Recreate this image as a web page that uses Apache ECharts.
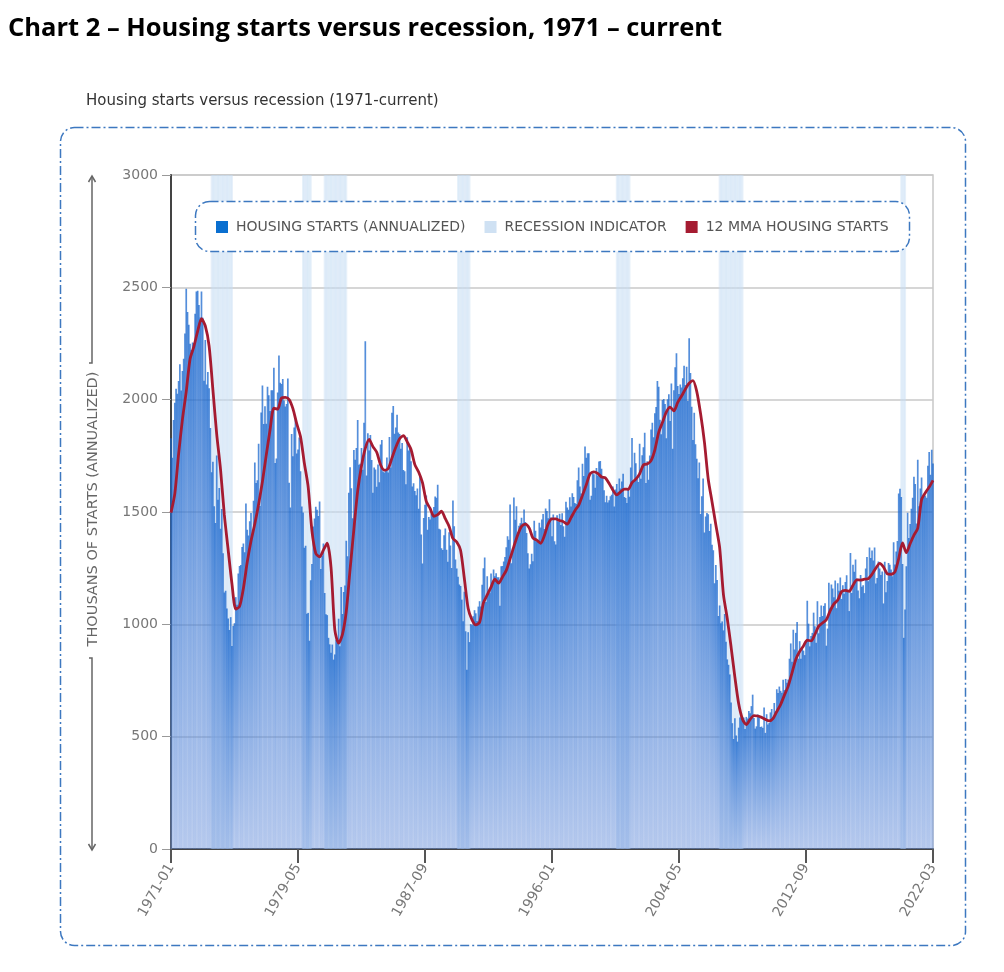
<!DOCTYPE html>
<html>
<head>
<meta charset="utf-8">
<script src="https://cdn.jsdelivr.net/npm/echarts@6/dist/echarts.min.js"></script>
<style>
html,body{margin:0;padding:0;background:#fff;}
#chart{width:1004px;height:972px;}
</style>
</head>
<body>
<div id="chart"></div>
<script>
// ---- category labels (monthly; source series lacks a few months in 2013-2019) ----
const firstYear = 1971, lastYear = 2022, lastMonth = 3;
const missingMonths = ['2013-03','2013-09','2014-03','2014-09','2015-03','2015-09','2016-03',
  '2016-09','2017-03','2017-09','2018-03','2018-09','2019-03','2019-09'];
const categories = [];
for (let y = firstYear; y <= lastYear; y++) {
  for (let m = 1; m <= 12; m++) {
    if (y === lastYear && m > lastMonth) break;
    const lab = y + '-' + (m < 10 ? '0' + m : m);
    if (missingMonths.indexOf(lab) < 0) categories.push(lab);
  }
}

// ---- housing starts, thousands, annualized (one value per category) ----
const housingStarts = [
  1828,1741,1910,1986,2049,2026,2083,2158,2041,2128,2182,2295,
  2494,2390,2334,2249,2221,2254,2252,2382,2481,2485,2421,2366,
  2481,2365,2084,2266,2067,2123,2051,1874,1677,1724,1526,
  1451,1752,1555,1607,1426,1513,1316,1142,1150,1070,1026,975,
  1032,904,993,1005,1121,1087,1226,1260,1264,1344,1360,1321,
  1538,1421,1395,1459,1495,1401,1550,1720,1629,1641,1804,
  1527,1943,2063,1892,1971,1893,2058,2020,1949,2042,2042,2142,
  1718,1738,2032,2197,2075,2070,2092,1996,1970,1981,2094,
  1630,1520,1847,1748,1876,1913,1760,1778,1832,1681,1524,1498,
  1341,1350,1047,1051,927,1196,1269,1436,1471,1523,1510,1482,
  1547,1246,1306,1360,1140,1045,1041,940,911,873,910,
  843,866,931,917,1025,902,1166,1046,1144,1173,1372,1303,
  1586,1699,1606,1472,1776,1733,1785,1910,1710,1715,1785,1688,
  1897,2260,1663,1851,1774,1843,1732,1586,1698,1689,1612,
  1711,1632,1800,1821,1680,1676,1684,1743,1676,1834,1698,1942,
  1972,1848,1876,1933,1854,1847,1782,1807,1687,1681,1623,1833,
  1774,1784,1726,1614,1628,1594,1575,1605,1515,1656,1400,
  1271,1473,1532,1573,1421,1478,1467,1493,1492,1522,1569,1563,
  1621,1425,1422,1339,1331,1397,1427,1332,1279,1410,1351,1251,
  1551,1437,1289,1248,1212,1177,1171,1110,1014,1145,969,
  798,965,921,1001,996,1036,1063,1049,1015,1079,1103,1079,
  1176,1250,1297,1099,1214,1145,1139,1226,1186,1244,1214,1227,
  1210,1210,1083,1258,1260,1280,1300,1343,1392,1376,1533,
  1272,1337,1564,1465,1526,1409,1439,1450,1474,1450,1511,1455,
  1407,1316,1249,1267,1314,1281,1461,1416,1369,1369,1452,1431,
  1467,1491,1424,1516,1504,1472,1557,1475,1392,1489,1370,
  1355,1486,1457,1492,1442,1494,1437,1390,1546,1520,1510,1566,
  1525,1584,1567,1540,1536,1641,1698,1614,1582,1715,1660,1792,
  1742,1761,1762,1555,1572,1682,1668,1608,1696,1662,1725,
  1727,1692,1651,1597,1543,1572,1542,1552,1570,1577,1614,1525,
  1600,1625,1590,1649,1605,1636,1670,1567,1562,1540,1602,1568,
  1698,1829,1642,1764,1717,1655,1633,1804,1648,1753,1788,
  1853,1629,1726,1643,1751,1867,1897,1833,1939,1967,2083,2057,
  1911,1846,1998,2003,1981,1828,2002,2024,1905,2072,1782,2042,
  2144,2207,2061,2025,2068,2054,2095,2151,2065,2147,1994,
  2273,2119,1969,1821,1942,1802,1737,1650,1720,1491,1570,1649,
  1409,1480,1495,1490,1415,1448,1354,1330,1183,1264,1197,1037,
  1084,1005,1013,973,1046,923,844,820,777,652,560,
  490,582,505,478,540,585,594,586,585,534,588,581,
  614,604,636,687,583,536,546,599,594,543,545,539,
  630,517,600,554,561,608,623,585,650,611,711,694,
  723,704,695,753,708,757,740,754,847,915,833,976,
  888,962,1010,847,925,847,898,883,863,930,1105,1003,
  902,948,962,1052,991,918,1103,960,1033,1084,1037,1082,
  1094,905,981,1185,1074,1177,1160,1121,1195,1072,1183,1150,
  1208,1113,1174,1136,1188,1219,1150,1059,1317,1140,1265,
  1234,1289,1204,1151,1116,1220,1167,1174,1139,1248,1300,1192,
  1342,1295,1329,1284,1342,1182,1206,1280,1248,1220,1235,1093,
  1279,1143,1193,1273,1265,1244,1214,1365,1266,1324,1371,1582,
  1604,1567,1269,940,1066,1258,1497,1384,1447,1514,1563,1657,
  1625,1449,1733,1526,1605,1654,1563,1573,1573,1563,1706,1767,
  1666,1777,1716
];

// ---- 12-month moving average, read every third category ----
const mmaStep = 3;
const mma12 = [
  1497,1582,1759,1912,2036,2181,2236,2305,2361,
  2328,2239,2044,1846,1690,1487,1332,1180,1068,1080,1160,
  1276,1371,1448,1535,1636,1753,1866,1962,1958,2007,2010,
  2001,1960,1893,1835,1717,1612,1415,1316,1300,1330,1361,1254,
  975,916,955,1057,1245,1423,1594,1705,1783,1823,1791,
  1766,1710,1686,1693,1741,1788,1826,1840,1812,1778,1711,
  1678,1631,1547,1516,1481,1488,1504,1470,1436,1382,1366,1330,
  1203,1070,1020,998,1009,1095,1131,1166,1201,1183,1211,
  1240,1292,1347,1398,1436,1446,1429,1384,1375,1361,1395,
  1447,1469,1469,1462,1457,1446,1475,1506,1530,1574,1621,1670,
  1679,1672,1656,1652,1627,1597,1576,1590,1602,1601,1631,
  1646,1670,1710,1714,1729,1777,1854,1899,1945,1967,1950,
  1988,2016,2047,2073,2085,2036,1937,1812,1647,1546,1443,1342,
  1132,1026,900,765,646,578,554,577,594,592,586,577,570,580,612,643,685,725,784,845,879,904,930,926,955,992,1006,1020,1060,1091,1108,
  1146,1151,1147,1174,1198,1197,1201,1203,1223,1250,1271,1255,1225,1223,1233,1293,1362,1319,1359,1397,1428,1555,1586,1611,1641
];

// ---- recession indicator periods (category labels) ----
const recessions = [
  ['1973-09','1975-01'], ['1979-09','1980-03'], ['1981-02','1982-07'],
  ['1989-11','1990-08'], ['2000-04','2001-02'], ['2007-01','2008-07'], ['2020-02','2020-05']
];

// ---- axis ticks ----
const yMin = 0, yMax = 3000, yStep = 500;
const labelEvery = 100;

const seriesNames = ['HOUSING STARTS (ANNUALIZED)', 'RECESSION INDICATOR', '12 MMA HOUSING STARTS'];
const colBlue = '#0a6fd0', colRec = '#cfe1f3', colRed = '#a51b31';

// recession indicator: full-height value inside each period, empty elsewhere
const recessionIndicator = categories.map(function (c) {
  for (const r of recessions) { if (c >= r[0] && c <= r[1]) return yMax; }
  return null;
});

const chart = echarts.init(document.getElementById('chart'), null, {renderer: 'canvas'});
const font = 'DejaVu Sans';

const option = {
  animation: false,
  backgroundColor: '#ffffff',
  title: [
    {text: 'Chart 2 \u2013 Housing starts versus recession, 1971 \u2013 current', left: 8, top: 16, padding: 0,
     textStyle: {fontFamily: 'Open Sans', fontWeight: 'bold', fontSize: 25.5, color: '#000'}},
    {text: 'Housing starts versus recession (1971-current)', left: 86, top: 94, padding: 0,
     textStyle: {fontFamily: font, fontWeight: 'normal', fontSize: 15, color: '#333'}}
  ],
  legend: {
    left: 216, top: 220, z: 60, padding: 0,
    itemWidth: 12, itemHeight: 12, itemGap: 19, icon: 'rect',
    textStyle: {fontFamily: font, fontSize: 14, color: '#555', padding: [0, 0, 0, 3]},
    data: [
      {name: seriesNames[0], itemStyle: {color: colBlue}},
      {name: seriesNames[1], itemStyle: {color: colRec}},
      {name: seriesNames[2], itemStyle: {color: colRed}}
    ],
    selectedMode: false
  },
  grid: {left: 171, right: 71, top: 175, bottom: 123, show: true, borderColor: '#c8c8c8', borderWidth: 1.5},
  xAxis: [{
    type: 'category', data: categories, boundaryGap: false,
    axisLine: {lineStyle: {color: '#444', width: 2}},
    axisTick: {show: true, interval: labelEvery - 1, length: 14, lineStyle: {color: '#555', width: 2}},
    axisLabel: {interval: labelEvery - 1, rotate: 60, margin: 16, color: '#777', fontSize: 14, fontFamily: font},
    splitLine: {show: false}
  }, {
    type: 'category', data: categories, boundaryGap: false, show: false
  }],
  yAxis: {
    type: 'value', min: yMin, max: yMax, interval: yStep,
    axisLine: {show: true, lineStyle: {color: '#444', width: 2}},
    axisTick: {show: true, length: 9, lineStyle: {color: '#999'}},
    axisLabel: {color: '#777', fontSize: 14, fontFamily: font, margin: 13, formatter: function (v) { return String(v); }},
    splitLine: {lineStyle: {color: '#c8c8c8', width: 1.5}}
  },
  series: [
    {
      name: seriesNames[1], type: 'bar', xAxisIndex: 1, data: recessionIndicator, z: 1,
      barWidth: 2, silent: true,
      itemStyle: {color: 'rgba(200,222,243,0.45)'}
    },
    {
      name: seriesNames[0], type: 'bar', data: housingStarts, z: 2,
      barWidth: 1.7,
      itemStyle: {
        color: new echarts.graphic.LinearGradient(0, 0, 0, 1, [
          {offset: 0, color: 'rgba(20,100,205,0.74)'},
          {offset: 1, color: 'rgba(110,148,220,0.42)'}
        ])
      }
    },
    {
      name: seriesNames[2], type: 'line', z: 3, symbol: 'none', smooth: 0.25,
      data: mma12.map((v, k) => [categories[k * mmaStep], v]),
      lineStyle: {color: colRed, width: 2.8}
    }
  ],
  graphic: [
    {type: 'rect', z: 50, shape: {x: 60.5, y: 127.5, width: 905, height: 818, r: 14},
     style: {fill: 'none', stroke: '#3d78c0', lineWidth: 1.5, lineDash: [9, 3, 2, 3]}},
    {type: 'rect', z: 50, shape: {x: 195.5, y: 201.5, width: 714, height: 50, r: 14},
     style: {fill: '#fff', stroke: '#3d78c0', lineWidth: 1.5, lineDash: [9, 3, 2, 3]}},
    {type: 'text', z: 50, x: 93, y: 509, rotation: Math.PI / 2,
     style: {text: 'THOUSANS OF STARTS (ANNUALIZED)', fontFamily: font, fontSize: 14.5, fill: '#666',
             textAlign: 'center', textVerticalAlign: 'middle'}},
    {type: 'polyline', z: 50, shape: {points: [[89, 363], [92, 363], [92, 176]]},
     style: {stroke: '#666', lineWidth: 1.5, fill: null}},
    {type: 'polyline', z: 50, shape: {points: [[88.5, 182], [92, 176], [95.5, 182]]},
     style: {stroke: '#666', lineWidth: 1.5, fill: null}},
    {type: 'polyline', z: 50, shape: {points: [[89, 658], [92, 658], [92, 850]]},
     style: {stroke: '#666', lineWidth: 1.5, fill: null}},
    {type: 'polyline', z: 50, shape: {points: [[88.5, 844], [92, 850], [95.5, 844]]},
     style: {stroke: '#666', lineWidth: 1.5, fill: null}}
  ]
};
chart.setOption(option);
</script>
</body>
</html>
